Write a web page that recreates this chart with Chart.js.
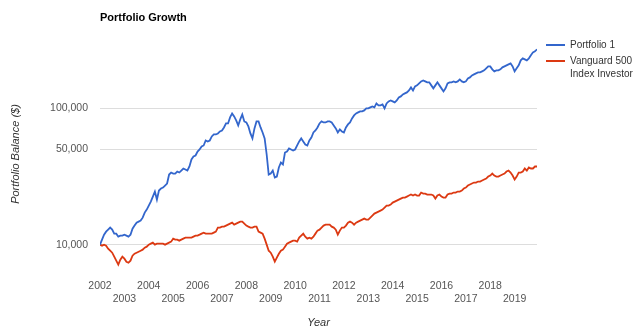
<!DOCTYPE html>
<html>
<head>
<meta charset="utf-8">
<script src="https://cdn.jsdelivr.net/npm/chart.js@4.4.0/dist/chart.umd.min.js"></script>
<style>
  body { margin: 0; background: #fff; font-family: Arial, "Liberation Sans", sans-serif; }
  #wrap { position: relative; width: 640px; height: 335px; }
  #growthChart { position: absolute; left: 0; top: 0; }
  #title { position: absolute; left: 100px; top: 11px; font-size: 11px; font-weight: bold; color: #000; line-height: 13px; }
  .legend-item { position: absolute; left: 546px; font-size: 10px; color: #333; }
  .swatch { position: absolute; left: 0; width: 19px; height: 2px; }
  .legend-text { position: absolute; left: 24px; width: 90px; line-height: 12.5px; }
</style>
</head>
<body>
<div id="wrap">
  <canvas id="growthChart" width="640" height="335"></canvas>
  <div id="title">Portfolio Growth</div>
  <div class="legend-item" style="top:39px">
    <div class="swatch" style="top:5px;background:#3366cc"></div>
    <div class="legend-text" style="top:0">Portfolio 1</div>
  </div>
  <div class="legend-item" style="top:55px">
    <div class="swatch" style="top:5px;background:#dc3912"></div>
    <div class="legend-text" style="top:0">Vanguard 500<br>Index Investor</div>
  </div>
</div>
<script>
// monthly balances, Jan 2002 .. Dec 2019
const startYear = 2002;
const portfolio1 = [
  10000, 10880, 11840, 12460, 12890, 13340, 12890, 12050, 12050, 11450, 11650, 11650,
  11840, 11650, 11450, 11840, 13110, 13800, 14510, 14760, 15010, 15790, 17190, 18090,
  19350, 20710, 22540, 24540, 21420, 24950, 25810, 26250, 27150, 28090, 32710, 33840,
  33270, 33270, 34420, 33840, 35010, 36220, 35610, 35010, 37460, 42170, 44370, 45130,
  48290, 49950, 52560, 53460, 58180, 57200, 58180, 62260, 64400, 64400, 65500, 67760,
  68920, 72510, 77580, 77580, 85870, 91890, 87340, 81620, 74990, 83020, 90350, 80250,
  78900, 73740, 65500, 60180, 71290, 80250, 80250, 72510, 66620, 60180, 45890, 32710,
  33270, 35010, 31090, 31620, 36840, 40090, 38760, 47470, 48290, 50810, 49950, 49120,
  49950, 53460, 57200, 60180, 57200, 54370, 53460, 58180, 61200, 66620, 68920, 72510,
  77580, 80250, 78900, 78900, 80250, 80250, 78900, 74990, 71290, 66620, 70100, 67760,
  66620, 72510, 76270, 78900, 84440, 88830, 91890, 93460, 95050, 95050, 96670, 100000,
  100000, 101700, 103400, 101700, 108800, 105200, 105200, 107000, 100000, 108800, 112600, 114500,
  112600, 110700, 114500, 120500, 122500, 126700, 128900, 131100, 135600, 142700, 135600, 145100,
  147600, 152700, 157900, 160600, 157900, 155300, 155300, 147600, 140300, 147600, 155300, 147600,
  140300, 133300, 140300, 152700, 155300, 155300, 157900, 155300, 157900, 163300, 157900, 155300,
  157900, 166100, 168900, 174800, 177800, 180800, 183900, 183900, 187000, 190200, 196800, 203500,
  203500, 193500, 187000, 190200, 190200, 193500, 200100, 203500, 207000, 210600, 214100, 203500,
  187000, 196800, 207000, 225300, 233100, 229200, 225300, 233100, 245200, 258000, 262400, 271400
];
const vanguard500 = [
  10000, 9830, 10000, 9830, 9350, 9030, 8730, 8160, 7630, 7130, 7760, 8160,
  7890, 7500, 7370, 7630, 8300, 8580, 8730, 8880, 9030, 9190, 9500, 9670,
  10000, 10170, 10340, 10000, 10170, 10170, 10170, 10170, 10000, 10170, 10340, 10520,
  11070, 10880, 10880, 10700, 10880, 11070, 11260, 11260, 11260, 11260, 11450, 11650,
  11650, 11840, 12050, 12250, 12050, 12050, 12050, 12050, 12250, 12460, 13340, 13340,
  13560, 13560, 13800, 14030, 14270, 14510, 14030, 14270, 14510, 14760, 14760, 14270,
  13800, 13560, 13340, 13340, 13560, 13560, 12460, 12250, 12050, 11070, 10000, 9030,
  8730, 8160, 7500, 8030, 8580, 9030, 9190, 9670, 10170, 10340, 10520, 10700,
  10700, 10520, 11260, 11650, 12050, 11450, 11070, 11260, 11070, 11450, 12050, 12680,
  12890, 13340, 13800, 14030, 14030, 14030, 13560, 13340, 12890, 11840, 12680, 13340,
  13340, 13800, 14510, 14760, 14510, 14030, 14510, 14760, 15010, 15270, 15530, 15270,
  15270, 15790, 16340, 16900, 17190, 17480, 17780, 18090, 18710, 19350, 19350, 19680,
  20360, 20710, 21060, 21420, 21790, 22160, 22160, 22540, 22930, 23320, 22930, 23320,
  22930, 22930, 24120, 23710, 23710, 23320, 23320, 23320, 22930, 21790, 22930, 23320,
  22540, 22160, 22160, 23320, 23710, 23710, 24120, 24120, 24540, 24540, 24950, 25810,
  26250, 27150, 27620, 28090, 28570, 28570, 29060, 29060, 29550, 30060, 30570, 31620,
  32160, 33270, 32160, 31620, 31620, 32160, 32710, 33270, 34420, 35010, 33840, 32160,
  30060, 31620, 33840, 33840, 34420, 36220, 35010, 36840, 36220, 36220, 37460, 37460
];
const yearTicks = [2002, 2003, 2004, 2005, 2006, 2007, 2008, 2009, 2010,
  2011, 2012, 2013, 2014, 2015, 2016, 2017, 2018, 2019];
const balanceTicks = [10000, 50000, 100000];

const toPoints = arr => arr.map((v, i) => ({ x: startYear + i / 12, y: v }));

const ctx = document.getElementById('growthChart').getContext('2d');
new Chart(ctx, {
  type: 'line',
  data: {
    datasets: [
      {
        label: 'Portfolio 1',
        data: toPoints(portfolio1),
        borderColor: '#3366cc',
        borderWidth: 1.8,
        pointRadius: 0,
        tension: 0
      },
      {
        label: 'Vanguard 500 Index Investor',
        data: toPoints(vanguard500),
        borderColor: '#dc3912',
        borderWidth: 1.8,
        pointRadius: 0,
        tension: 0
      }
    ]
  },
  options: {
    responsive: false,
    animation: false,
    layout: { padding: { left: 0, right: 103, top: 36, bottom: 0 } },
    plugins: {
      legend: { display: false },
      tooltip: { enabled: false }
    },
    scales: {
      x: {
        type: 'linear',
        min: startYear,
        max: startYear + (portfolio1.length - 1) / 12,
        afterBuildTicks: axis => { axis.ticks = yearTicks.map(v => ({ value: v })); },
        afterFit: scale => { scale.height = 63; },
        grid: { display: false, drawTicks: false },
        border: { display: false },
        ticks: {
          autoSkip: false,
          maxRotation: 0,
          padding: 7,
          color: '#555',
          font: { family: 'Arial, "Liberation Sans"', size: 10.5, lineHeight: 1.3 },
          callback: v => (v % 2 === 0 ? String(v) : ['', String(v)])
        },
        title: {
          display: true,
          text: 'Year',
          color: '#333',
          padding: { top: 0, bottom: 5 },
          font: { family: 'Arial, "Liberation Sans"', size: 11, style: 'italic' }
        }
      },
      y: {
        type: 'logarithmic',
        min: 6300,
        max: 340000,
        afterBuildTicks: axis => { axis.ticks = balanceTicks.map(v => ({ value: v })); },
        afterFit: scale => { scale.width = 100; },
        grid: { color: '#dddddd', drawTicks: false },
        border: { display: false },
        ticks: {
          padding: 12,
          color: '#555',
          font: { family: 'Arial, "Liberation Sans"', size: 10.5 },
          callback: v => Number(v).toLocaleString('en-US')
        },
        title: {
          display: true,
          text: 'Portfolio Balance ($)',
          color: '#333',
          padding: { top: 9, bottom: 0 },
          font: { family: 'Arial, "Liberation Sans"', size: 11, style: 'italic' }
        }
      }
    }
  }
});
</script>
</body>
</html>
